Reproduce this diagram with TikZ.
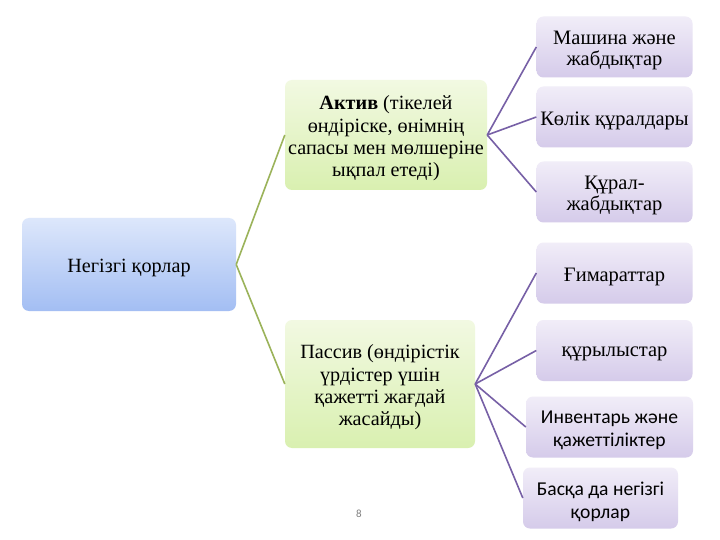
\documentclass[tikz,border=0pt]{standalone}
\usepackage{fontspec}
\setmainfont{Liberation Serif}
\newfontfamily\calib{Carlito}
\definecolor{purpTop}{HTML}{F1EDF8}
\definecolor{purpBot}{HTML}{D5CBEA}
\definecolor{purpLine}{HTML}{7760A6}
\definecolor{grnTop}{HTML}{F2F9E2}
\definecolor{grnBot}{HTML}{D9F0B0}
\definecolor{grnLine}{HTML}{9BB35A}
\definecolor{bluTop}{HTML}{DDE7FB}
\definecolor{bluBot}{HTML}{A3BEF3}
\begin{document}
\begin{tikzpicture}[x=1pt,y=-1pt,
  box/.style={rounded corners=7pt, inner sep=0pt, draw=none},
  purp/.style={box, top color=purpTop, bottom color=purpBot, minimum width=156pt, minimum height=61pt},
  grn/.style={box, top color=grnTop, bottom color=grnBot},
  blu/.style={box, top color=bluTop, bottom color=bluBot},
  txt/.style={align=center, inner sep=0pt, yshift=-3.5pt},
  ptxt/.style={txt, font=\fontsize{20.5}{21}\selectfont},
  ctxt/.style={txt, font=\calib\fontsize{19.6}{23}\selectfont},
  gtxt/.style={txt, font=\fontsize{20.2}{22.3}\selectfont},
  plink/.style={draw=purpLine, line width=1.6pt},
  glink/.style={draw=grnLine, line width=1.6pt}]
\useasboundingbox (0,0) rectangle (720,540);
\fill[white] (0,0) rectangle (720,540);

\node[blu, minimum width=214pt, minimum height=93pt] (main) at (129,264.5) {};
\node[gtxt] (maint) at (main) {Негізгі қорлар};
\node[grn, minimum width=202pt, minimum height=110pt] (act) at (386,135) {};
\node[gtxt] (actt) at (act) {\textbf{Актив} (тікелей\\өндіріске, өнімнің\\сапасы мен мөлшеріне\\ықпал етеді)};
\node[grn, minimum width=190pt, minimum height=128pt] (pas) at (380,384) {};
\node[gtxt] (past) at (pas) {Пассив (өндірістік\\үрдістер үшін\\қажетті жағдай\\жасайды)};

\node[purp] (b1) at (614.5,47) {};
\node[ptxt] (b1t) at (b1) {Машина және\\жабдықтар};
\node[purp] (b2) at (614.5,117) {};
\node[ptxt] (b2t) at (b2) {Көлік құралдары};
\node[purp] (b3) at (614.5,192) {};
\node[ptxt] (b3t) at (b3) {Құрал-\\жабдықтар};
\node[purp] (b4) at (614.5,273) {};
\node[ptxt] (b4t) at (b4) {Ғимараттар};
\node[purp] (b5) at (614.5,350.5) {};
\node[ptxt] (b5t) at (b5) {құрылыстар};
\node[purp, minimum width=167pt] (b6) at (609.5,427) {};
\node[ctxt] (b6t) at (b6) {Инвентарь және\\қажеттіліктер};
\node[purp, minimum width=155pt] (b7) at (600.5,498) {};
\node[ctxt] (b7t) at (b7) {Басқа да негізгі\\қорлар};

\node[font=\calib\fontsize{11}{13}\selectfont, text=gray] (pg) at (359,514) {8};

\draw[glink] (main.east) -- (act.west);
\draw[glink] (main.east) -- (pas.west);
\draw[plink] (act.east) -- (b1.west);
\draw[plink] (act.east) -- (b2.west);
\draw[plink] (act.east) -- (b3.west);
\draw[plink] (pas.east) -- (b4.west);
\draw[plink] (pas.east) -- (b5.west);
\draw[plink] (pas.east) -- (b6.west);
\draw[plink] (pas.east) -- (b7.west);
\end{tikzpicture}
\end{document}
